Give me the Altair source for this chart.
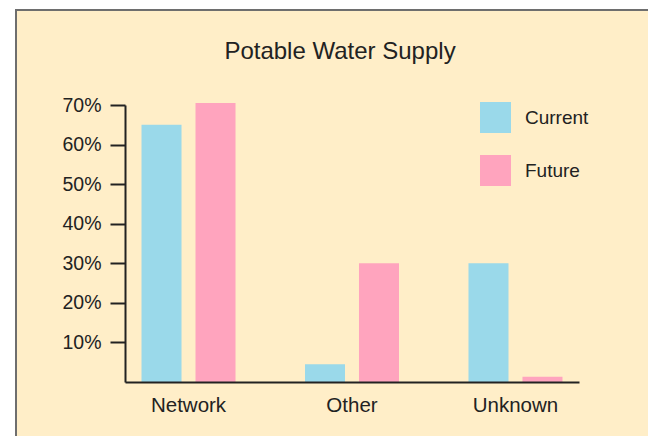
import altair as alt
import pandas as pd

categories = ["Network", "Other", "Unknown"]
series = ["Current", "Future"]
current_values = [65, 4.5, 30]
future_values = [70.5, 30, 1.3]
y_ticks = [10, 20, 30, 40, 50, 60, 70]
title_text = "Potable Water Supply"

rows = []
for i, c in enumerate(categories):
    rows.append({"category": c, "series": "Current", "value": current_values[i]})
    rows.append({"category": c, "series": "Future", "value": future_values[i]})
df = pd.DataFrame(rows)

FONT = "Liberation Sans"
TEXT = "#222222"
BLUE = "#9AD9EA"
PINK = "#FFA4BE"
CREAM = "#FFEEC8"

one = pd.DataFrame({"a": [0]})

frame = alt.Chart(one).mark_rect(
    fill=CREAM, stroke="#6E6E6E", strokeWidth=2
).encode(
    x=alt.value(-109), x2=alt.value(560),
    y=alt.value(-95), y2=alt.value(360),
)

title = alt.Chart(one).mark_text(
    text=title_text, align="center", baseline="alphabetic",
    fontSize=24, font=FONT, color=TEXT,
).encode(x=alt.value(215), y=alt.value(-46))

bars = alt.Chart(df).mark_bar().encode(
    x=alt.X("category:N", sort=categories,
            scale=alt.Scale(paddingInner=0.425, paddingOuter=0.101),
            axis=alt.Axis(title=None, ticks=False, tickSize=0, labelAngle=0,
                          labelFontSize=20.5, labelFont=FONT, labelColor=TEXT,
                          labelPadding=13, domainColor=TEXT, domainWidth=2,
                          grid=False, zindex=2)),
    xOffset=alt.XOffset("series:N", sort=series,
                        scale=alt.Scale(paddingInner=0.259, paddingOuter=0)),
    y=alt.Y("value:Q", scale=alt.Scale(domain=[0, 70], nice=False),
            axis=alt.Axis(title=None, values=y_ticks, labelExpr="datum.value + '%'",
                          tickSize=15, tickWidth=2, tickColor=TEXT,
                          labelFontSize=19.5, labelFont=FONT, labelColor=TEXT,
                          labelPadding=9, domainColor=TEXT, domainWidth=2,
                          grid=False, zindex=2)),
    color=alt.Color("series:N", sort=series,
                    scale=alt.Scale(domain=series, range=[BLUE, PINK]),
                    legend=alt.Legend(orient="none", legendX=355, legendY=-3,
                                      title=None, symbolType="square",
                                      symbolSize=961, symbolStrokeWidth=0,
                                      symbolOpacity=1,
                                      labelFontSize=19, labelFont=FONT,
                                      labelColor=TEXT, labelOffset=14,
                                      rowPadding=22, padding=0, zindex=2)),
)

chart = alt.layer(frame, title, bars).properties(
    width=454, height=277,
    autosize=alt.AutoSizeParams(type="none"),
    padding={"left": 117, "top": 97, "right": 69, "bottom": 54},
    background="white",
).configure_view(stroke=None)

chart.save("out.html", embed_options={"renderer": "svg", "actions": False})
